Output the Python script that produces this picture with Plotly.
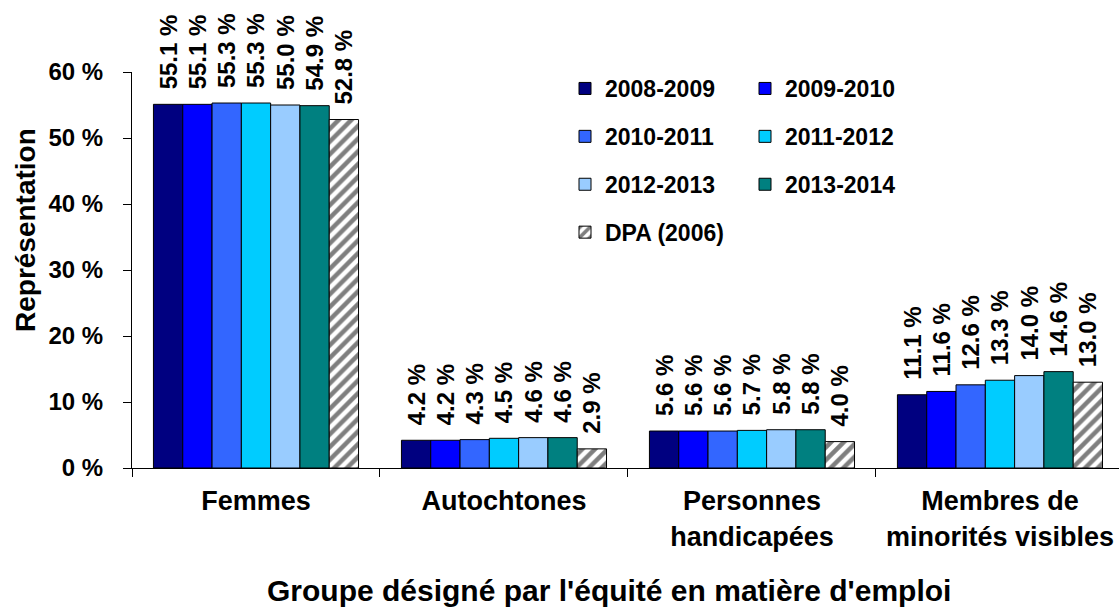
import plotly.graph_objects as go

categories = ["Femmes", "Autochtones", "Personnes<br>handicapées", "Membres de<br>minorités visibles"]
series_names = ["2008-2009", "2009-2010", "2010-2011", "2011-2012", "2012-2013", "2013-2014", "DPA (2006)"]
v_2008_2009 = [55.1, 4.2, 5.6, 11.1]
v_2009_2010 = [55.1, 4.2, 5.6, 11.6]
v_2010_2011 = [55.3, 4.3, 5.6, 12.6]
v_2011_2012 = [55.3, 4.5, 5.7, 13.3]
v_2012_2013 = [55.0, 4.6, 5.8, 14.0]
v_2013_2014 = [54.9, 4.6, 5.8, 14.6]
v_dpa_2006 = [52.8, 2.9, 4.0, 13.0]
series_values = [v_2008_2009, v_2009_2010, v_2010_2011, v_2011_2012, v_2012_2013, v_2013_2014, v_dpa_2006]
colors = ["#000080", "#0000FF", "#3366FF", "#00CCFF", "#99CCFF", "#008080", "#FFFFFF"]
legend_ids = ["legend", "legend2", "legend", "legend2", "legend", "legend2", "legend"]

FONT = "Liberation Sans, Arial, sans-serif"
W, H = 1119, 607
L, R, T, B = 132, 0, 72, 139
PW, PH = W - L - R, H - T - B

def px_x(x):
    return (x - L) / PW

def px_y(y):
    return (H - B - y) / PH

fig = go.Figure()
for i, (name, vals) in enumerate(zip(series_names, series_values)):
    marker = dict(color=colors[i], line=dict(color="#000000", width=1))
    if name.startswith("DPA"):
        marker["pattern"] = dict(shape="/", fgcolor="#000000", bgcolor="#FFFFFF", size=9, solidity=0.5)
    fig.add_trace(go.Bar(
        x=categories, y=vals, name=name, marker=marker,
        texttemplate="\u2002%{y:.1f} %", textposition="outside", textangle=-90,
        constraintext="none", cliponaxis=False,
        textfont=dict(family=FONT, size=24, color="#000000", weight="bold"),
        legend=legend_ids[i], legendgroup=name,
    ))

legend_common = dict(
    xref="paper", yref="paper", yanchor="top", xanchor="left",
    orientation="v", bgcolor="rgba(0,0,0,0)", tracegroupgap=15, itemwidth=30,
    font=dict(family=FONT, size=23, color="#000000", weight="bold"),
)

fig.update_layout(
    width=W, height=H,
    paper_bgcolor="white", plot_bgcolor="white",
    margin=dict(l=L, r=R, t=T, b=B, autoexpand=False),
    barmode="group", bargap=0.173, bargroupgap=0,
    font=dict(family=FONT, color="#000000"),
    showlegend=True,
    legend=dict(x=px_x(565), y=px_y(67), **legend_common),
    legend2=dict(x=px_x(745), y=px_y(67), **legend_common),
    xaxis=dict(
        range=[-0.5, 3.48],
        showline=True, linecolor="#000000", linewidth=1,
        ticks="outside", ticklen=8, tickcolor="#000000", tickson="boundaries",
        tickangle=0, ticklabelstandoff=9,
        tickfont=dict(family=FONT, size=27, color="#000000", weight="bold"),
        automargin=False,
    ),
    yaxis=dict(
        range=[0, 60], dtick=10, ticksuffix=" %",
        showline=True, linecolor="#000000", linewidth=1,
        ticks="outside", ticklen=8, tickcolor="#000000",
        ticklabelstandoff=15,
        showgrid=False, zeroline=False,
        tickfont=dict(family=FONT, size=24, color="#000000", weight="bold"),
        automargin=False,
    ),
    annotations=[
        dict(text="Représentation", xref="paper", yref="paper",
             x=px_x(25), y=px_y(230), xanchor="center", yanchor="middle",
             textangle=-90, showarrow=False,
             font=dict(family=FONT, size=28, color="#000000", weight="bold")),
        dict(text="Groupe désigné par l'équité en matière d'emploi", xref="paper", yref="paper",
             x=px_x(609), y=px_y(590), xanchor="center", yanchor="middle",
             showarrow=False,
             font=dict(family=FONT, size=30, color="#000000", weight="bold")),
    ],
)

fig.write_html("out.html", config={"displayModeBar": False},
               post_script="document.body.style.margin='0';document.body.style.overflow='hidden';")
